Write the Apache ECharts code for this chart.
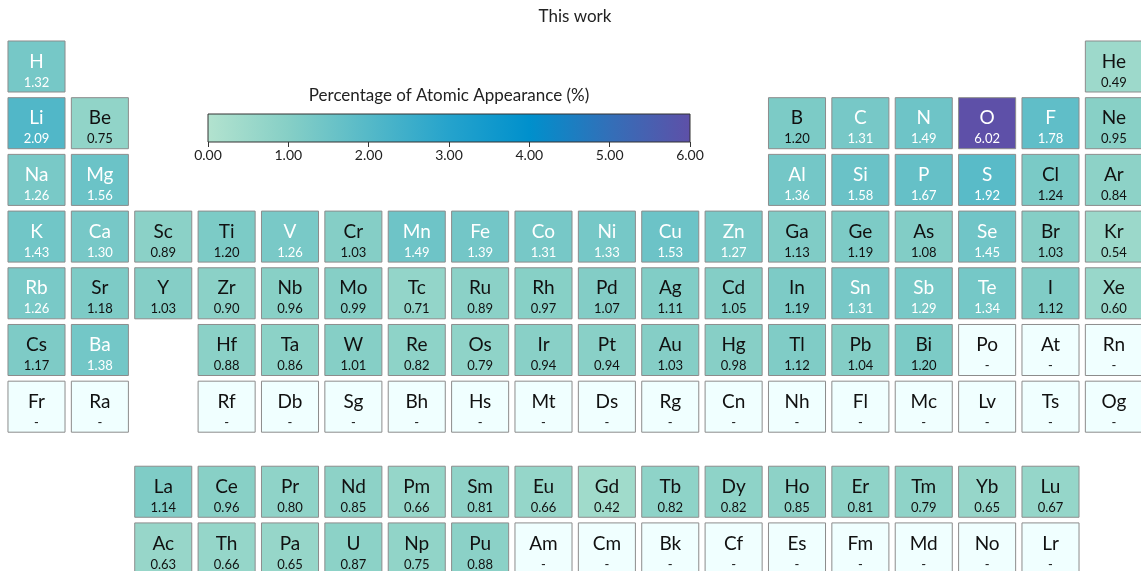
<!DOCTYPE html>
<html>
<head>
<meta charset="utf-8">
<script src="https://cdn.jsdelivr.net/npm/echarts@6/dist/echarts.min.js"></script>
<style>
  html, body { margin: 0; padding: 0; background: #fff; }
  #chart { width: 1141px; height: 571px; }
</style>
</head>
<body>
<div id="chart"></div>
<script>
// Periodic table layout: '' = no element in that slot
const symbolRows = [
  ['H','','','','','','','','','','','','','','','','','He'],
  ['Li','Be','','','','','','','','','','','B','C','N','O','F','Ne'],
  ['Na','Mg','','','','','','','','','','','Al','Si','P','S','Cl','Ar'],
  ['K','Ca','Sc','Ti','V','Cr','Mn','Fe','Co','Ni','Cu','Zn','Ga','Ge','As','Se','Br','Kr'],
  ['Rb','Sr','Y','Zr','Nb','Mo','Tc','Ru','Rh','Pd','Ag','Cd','In','Sn','Sb','Te','I','Xe'],
  ['Cs','Ba','','Hf','Ta','W','Re','Os','Ir','Pt','Au','Hg','Tl','Pb','Bi','Po','At','Rn'],
  ['Fr','Ra','','Rf','Db','Sg','Bh','Hs','Mt','Ds','Rg','Cn','Nh','Fl','Mc','Lv','Ts','Og'],
  ['','','La','Ce','Pr','Nd','Pm','Sm','Eu','Gd','Tb','Dy','Ho','Er','Tm','Yb','Lu',''],
  ['','','Ac','Th','Pa','U','Np','Pu','Am','Cm','Bk','Cf','Es','Fm','Md','No','Lr','']
];

// Percentage of atomic appearance; null = no data ("-")
const valueRows = [
  [1.32,null,null,null,null,null,null,null,null,null,null,null,null,null,null,null,null,0.49],
  [2.09,0.75,null,null,null,null,null,null,null,null,null,null,1.20,1.31,1.49,6.02,1.78,0.95],
  [1.26,1.56,null,null,null,null,null,null,null,null,null,null,1.36,1.58,1.67,1.92,1.24,0.84],
  [1.43,1.30,0.89,1.20,1.26,1.03,1.49,1.39,1.31,1.33,1.53,1.27,1.13,1.19,1.08,1.45,1.03,0.54],
  [1.26,1.18,1.03,0.90,0.96,0.99,0.71,0.89,0.97,1.07,1.11,1.05,1.19,1.31,1.29,1.34,1.12,0.60],
  [1.17,1.38,null,0.88,0.86,1.01,0.82,0.79,0.94,0.94,1.03,0.98,1.12,1.04,1.20,null,null,null],
  [null,null,null,null,null,null,null,null,null,null,null,null,null,null,null,null,null,null],
  [null,null,1.14,0.96,0.80,0.85,0.66,0.81,0.66,0.42,0.82,0.82,0.85,0.81,0.79,0.65,0.67,null],
  [null,null,0.63,0.66,0.65,0.87,0.75,0.88,null,null,null,null,null,null,null,null,null,null]
];

const colorbarTicks = [0, 1, 2, 3, 4, 5, 6];
const colorStops = ['#b3e3cf', '#86cfc6', '#55b9c8', '#25a3cc', '#0090cc', '#336fb8', '#5e50a8'];

const cellData = [];
symbolRows.forEach((row, r) => {
  row.forEach((sym, c) => {
    if (!sym) return;
    const v = valueRows[r][c];
    const rowPos = r >= 7 ? r + 0.5 : r; // gap before the f-block rows
    cellData.push({ value: [c, rowPos, v == null ? '-' : v, sym] });
  });
});

const chart = echarts.init(document.getElementById('chart'), null, { renderer: 'canvas' });

const FONT = 'Lato, "Open Sans", sans-serif';

function renderCell(params, api) {
  const c = api.coord([api.value(0), api.value(1)]);
  const unit = api.size([1, 1]);
  const w = unit[0] * 0.9, h = unit[1] * 0.9;
  const v = api.value(2);
  const sym = cellData[params.dataIndex].value[3];
  const hasVal = typeof v === 'number' && !isNaN(v);
  const fill = hasVal ? api.visual('color') : '#f0ffff';
  const txtColor = hasVal && v > 1.25 ? '#ffffff' : '#111111';
  return {
    type: 'group',
    children: [
      {
        type: 'rect',
        shape: { x: c[0] - w / 2, y: c[1] - h / 2, width: w, height: h },
        style: { fill: fill, stroke: '#8c8c8c', lineWidth: 1 }
      },
      {
        type: 'text',
        x: c[0], y: c[1] - 5,
        style: { text: sym, fill: txtColor, font: '19px ' + FONT, align: 'center', verticalAlign: 'middle' }
      },
      {
        type: 'text',
        x: c[0], y: c[1] + 16,
        style: { text: hasVal ? v.toFixed(2) : '-', fill: txtColor, font: '13px ' + FONT, align: 'center', verticalAlign: 'middle' }
      }
    ]
  };
}

function renderColorbar(params, api) {
  const p0 = api.coord([api.value(0), 1]);
  const p1 = api.coord([api.value(1), 0]);
  const stops = colorStops.map((col, i) => ({ offset: i / (colorStops.length - 1), color: col }));
  return {
    type: 'rect',
    shape: { x: p0[0], y: p0[1], width: p1[0] - p0[0], height: p1[1] - p0[1] },
    style: {
      fill: new echarts.graphic.LinearGradient(0, 0, 1, 0, stops),
      stroke: '#333333', lineWidth: 1
    }
  };
}

chart.setOption({
  animation: false,
  backgroundColor: '#ffffff',
  graphic: [
    {
      type: 'text', x: 575, y: 17,
      style: { text: 'This work', font: '17px ' + FONT, fill: '#222', align: 'center', verticalAlign: 'middle' }
    },
    {
      type: 'text', x: 449, y: 96,
      style: { text: 'Percentage of Atomic Appearance (%)', font: '17px ' + FONT, fill: '#222', align: 'center', verticalAlign: 'middle' }
    }
  ],
  grid: [
    // the table runs slightly past the right and bottom edges, so the axis
    // ranges stop at the container border and cells are drawn unclipped
    { left: 4.81, top: 38.15, width: 1136.19, height: 532.85 },
    { left: 208, top: 114, width: 482, height: 28 }
  ],
  xAxis: [
    { gridIndex: 0, type: 'value', min: -0.5, max: 17.428, show: false },
    {
      gridIndex: 1, type: 'value', min: 0, max: 6, interval: 1,
      axisLine: { show: false },
      axisTick: { show: true, length: 5, lineStyle: { color: '#333' } },
      splitLine: { show: false },
      axisLabel: {
        margin: 6, color: '#222', fontSize: 14, fontFamily: FONT,
        formatter: v => colorbarTicks.indexOf(v) >= 0 ? v.toFixed(2) : ''
      }
    }
  ],
  yAxis: [
    { gridIndex: 0, type: 'value', min: -0.5, max: 8.898, inverse: true, show: false },
    { gridIndex: 1, type: 'value', min: 0, max: 1, show: false }
  ],
  visualMap: {
    show: false,
    type: 'continuous',
    min: 0, max: 6,
    dimension: 2,
    seriesIndex: 0,
    inRange: { color: colorStops }
  },
  series: [
    {
      type: 'custom',
      xAxisIndex: 0, yAxisIndex: 0,
      renderItem: renderCell,
      data: cellData,
      clip: false
    },
    {
      type: 'custom',
      xAxisIndex: 1, yAxisIndex: 1,
      renderItem: renderColorbar,
      data: [[colorbarTicks[0], colorbarTicks[colorbarTicks.length - 1]]],
      clip: false
    }
  ]
});
</script>
</body>
</html>
